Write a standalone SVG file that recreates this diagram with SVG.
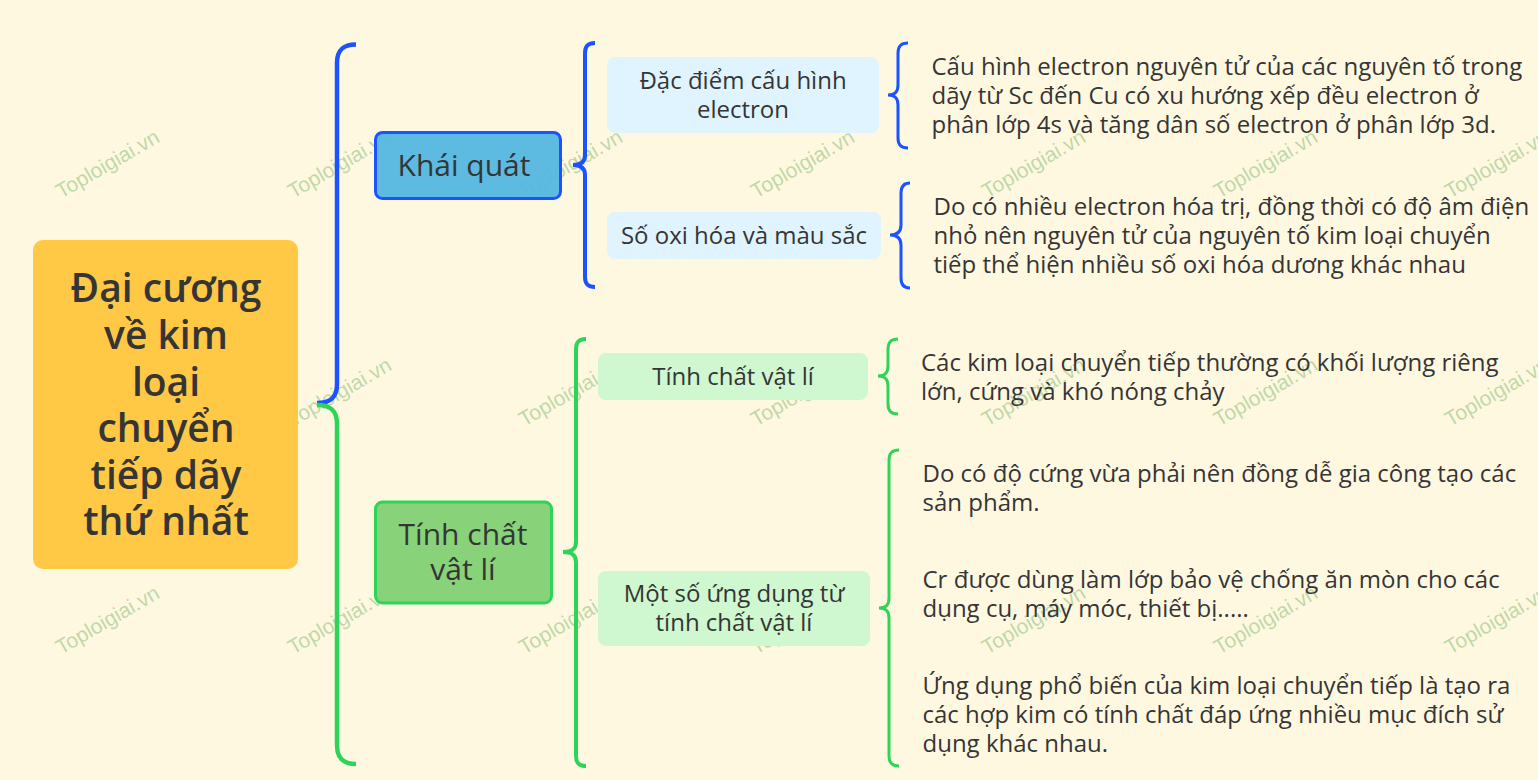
<svg xmlns="http://www.w3.org/2000/svg" xmlns:xlink="http://www.w3.org/1999/xlink" width="1538" height="780" viewBox="0 0 1538 780">
<style>
text{font-family:"Open Sans","Noto Sans","DejaVu Sans",sans-serif;fill:#353535}
.c{text-anchor:middle}
.root{font-size:39px;font-weight:600}
.l1{font-size:30px}
.l2,.leaf{font-size:24px}
.wm{font-family:"Liberation Sans",Arial,sans-serif;font-size:21px;fill:#7fb86f;fill-opacity:.5}
.b{fill:none;stroke:#1a53ff;stroke-width:3}
.g{fill:none;stroke:#2ed457;stroke-width:3}
.big{stroke-width:4.5}
.mid{stroke-width:4}
.blue{fill:#dff4ff}
.green{fill:#cff7d0}
</style>
<defs><text id="w" class="wm" transform="rotate(-30)">Toploigiai.vn</text></defs>
<rect width="1538" height="780" fill="#fff8e1"/>
<g id="watermarks">
<use xlink:href="#w" transform="translate(61 199)"/><use xlink:href="#w" transform="translate(293 199)"/><use xlink:href="#w" transform="translate(524 199)"/><use xlink:href="#w" transform="translate(756 199)"/><use xlink:href="#w" transform="translate(987 199)"/><use xlink:href="#w" transform="translate(1219 199)"/><use xlink:href="#w" transform="translate(1450 199)"/>
<use xlink:href="#w" transform="translate(293 427)"/><use xlink:href="#w" transform="translate(524 427)"/><use xlink:href="#w" transform="translate(756 427)"/><use xlink:href="#w" transform="translate(987 427)"/><use xlink:href="#w" transform="translate(1219 427)"/><use xlink:href="#w" transform="translate(1450 427)"/>
<use xlink:href="#w" transform="translate(61 655)"/><use xlink:href="#w" transform="translate(293 655)"/><use xlink:href="#w" transform="translate(524 655)"/><use xlink:href="#w" transform="translate(756 655)"/><use xlink:href="#w" transform="translate(987 655)"/><use xlink:href="#w" transform="translate(1219 655)"/><use xlink:href="#w" transform="translate(1450 655)"/>
</g>
<g id="connectors">
<path class="b big" d="M356 44.500C343 44.500 337 50 337 63V384C337 397 331 403 317 403"/>
<path class="g big" d="M317 405C331 405 337 411 337 424V745C337 758 343 764 356 764"/>
<path class="b mid" d="M595 43C588 43 585 46 585 53V155C585 162 581 165 573 165C581 165 585 168 585 175V277C585 284 588 287 595 287"/>
<path class="g mid" d="M586 339C579 339 576 342 576 349V542C576 549 572 552 563 552C572 552 576 555 576 562V756C576 763 579 766 586 766"/>
<path class="b" d="M908 43C901 43 898 46 898 53V85C898 92 895 95 888 95C895 95 898 98 898 105V138C898 145 901 148 908 148"/>
<path class="b" d="M910 183C904 183 901 186 901 193V225C901 232 897 235 890 235C897 235 901 238 901 245V278C901 285 904 288 910 288"/>
<path class="g" d="M898 339C891 339 888 342 888 349V366C888 373 885 376 878 376C885 376 888 379 888 386V404C888 411 891 414 898 414"/>
<path class="g" d="M899 450C892 450 889 453 889 460V598C889 605 886 608 879 608C886 608 889 611 889 618V756C889 763 892 766 899 766"/>
</g>
<g id="root"><rect x="33" y="240" width="265" height="329" rx="10" fill="#ffc845"/>
<text class="root c" x="166" y="302">Đại cương</text><text class="root c" x="166" y="348.500">về kim</text><text class="root c" x="166" y="395.500">loại</text><text class="root c" x="166" y="442">chuyển</text><text class="root c" x="166" y="488.500">tiếp dãy</text><text class="root c" x="166" y="535">thứ nhất</text></g>
<g id="khai-quat"><rect x="375.500" y="132.500" width="185" height="66" rx="7" fill="#56b7e0" fill-opacity=".96" stroke="#1a53ff" stroke-width="3"/><text class="l1 c" x="464" y="176">Khái quát</text></g>
<g id="tinh-chat"><rect x="375.500" y="502" width="176" height="101" rx="7" fill="#84d177" fill-opacity=".97" stroke="#2ed457" stroke-width="3"/><text class="l1 c" x="463" y="545">Tính chất</text><text class="l1 c" x="463" y="580">vật lí</text></g>
<g id="dac-diem"><rect x="607" y="57" width="272" height="76" rx="8" class="blue"/><text class="l2 c" x="743" y="89">Đặc điểm cấu hình</text><text class="l2 c" x="743" y="118">electron</text></g>
<g id="so-oxi"><rect x="607" y="212" width="274" height="47" rx="8" class="blue"/><text class="l2 c" x="744" y="244">Số oxi hóa và màu sắc</text></g>
<g id="tinh-chat-vat-li"><rect x="598" y="353" width="270" height="47" rx="8" class="green"/><text class="l2 c" x="733" y="385">Tính chất vật lí</text></g>
<g id="ung-dung"><rect x="598" y="571" width="272" height="75" rx="8" class="green"/><text class="l2 c" x="734" y="602">Một số ứng dụng từ</text><text class="l2 c" x="734" y="631">tính chất vật lí</text></g>
<g id="leaf-1"><text class="leaf" x="931.500" y="75">Cấu hình electron nguyên tử của các nguyên tố trong</text><text class="leaf" x="931.500" y="104">dãy từ Sc đến Cu có xu hướng xếp đều electron ở</text><text class="leaf" x="931.500" y="133">phân lớp 4s và tăng dân số electron ở phân lớp 3d.</text></g>
<g id="leaf-2"><text class="leaf" x="933.500" y="215">Do có nhiều electron hóa trị, đồng thời có độ âm điện</text><text class="leaf" x="933.500" y="244">nhỏ nên nguyên tử của nguyên tố kim loại chuyển</text><text class="leaf" x="933.500" y="273">tiếp thể hiện nhiều số oxi hóa dương khác nhau</text></g>
<g id="leaf-3"><text class="leaf" x="921" y="371">Các kim loại chuyển tiếp thường có khối lượng riêng</text><text class="leaf" x="921" y="400">lớn, cứng và khó nóng chảy</text></g>
<g id="leaf-4"><text class="leaf" x="922.500" y="482">Do có độ cứng vừa phải nên đồng dễ gia công tạo các</text><text class="leaf" x="922.500" y="511">sản phẩm.</text></g>
<g id="leaf-5"><text class="leaf" x="922.500" y="588">Cr được dùng làm lớp bảo vệ chống ăn mòn cho các</text><text class="leaf" x="922.500" y="617">dụng cụ, máy móc, thiết bị.....</text></g>
<g id="leaf-6"><text class="leaf" x="922.500" y="694">Ứng dụng phổ biến của kim loại chuyển tiếp là tạo ra</text><text class="leaf" x="922.500" y="723">các hợp kim có tính chất đáp ứng nhiều mục đích sử</text><text class="leaf" x="922.500" y="752">dụng khác nhau.</text></g>
</svg>
